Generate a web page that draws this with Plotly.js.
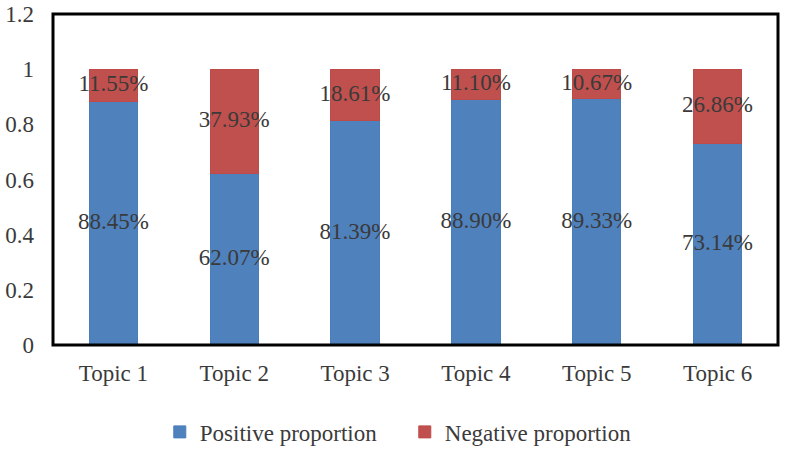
<!DOCTYPE html>
<html>
<head>
<meta charset="utf-8">
<script src="https://cdn.plot.ly/plotly-3.0.1.min.js"></script>
<style>
  html, body { margin: 0; padding: 0; background: #ffffff; }
  #chart { width: 786px; height: 449px; }
</style>
</head>
<body>
<div id="chart"></div>
<script>
// Sentiment split per topic
const topics = ["Topic 1", "Topic 2", "Topic 3", "Topic 4", "Topic 5", "Topic 6"];
const positive = [0.8845, 0.6207, 0.8139, 0.8890, 0.8933, 0.7314];
const negative = [0.1155, 0.3793, 0.1861, 0.1110, 0.1067, 0.2686];
const positiveLabels = ["88.45%", "62.07%", "81.39%", "88.90%", "89.33%", "73.14%"];
const negativeLabels = ["11.55%", "37.93%", "18.61%", "11.10%", "10.67%", "26.86%"];

const serif = "Liberation Serif, Times New Roman, serif";
const blue = "#4F81BD";
const red = "#C0504D";
const ink = "#3a3a3a";

const traces = [
  {
    type: "bar", name: "Positive proportion", x: topics, y: positive,
    marker: { color: blue, line: { color: "#4A7EBB", width: 1 } },
    hoverinfo: "skip"
  },
  {
    type: "bar", name: "Negative proportion", x: topics, y: negative,
    marker: { color: red, line: { color: "#BE4B48", width: 1 } },
    hoverinfo: "skip"
  },
  // value labels centred on each segment
  {
    type: "scatter", mode: "text", x: topics,
    y: positive.map(v => v / 2),
    text: positiveLabels, showlegend: false, hoverinfo: "skip",
    textposition: "middle center",
    textfont: { family: serif, size: 23, color: ink }
  },
  {
    type: "scatter", mode: "text", x: topics,
    y: positive.map((v, i) => v + negative[i] / 2),
    text: negativeLabels, showlegend: false, hoverinfo: "skip",
    textposition: "middle center",
    textfont: { family: serif, size: 23, color: ink }
  }
];

const layout = {
  width: 786, height: 449,
  margin: { l: 53, r: 8, t: 14, b: 104 },
  paper_bgcolor: "#ffffff", plot_bgcolor: "#ffffff",
  barmode: "stack", bargap: 0.6,
  font: { family: serif, size: 23, color: ink },
  xaxis: {
    type: "category", showgrid: false, zeroline: false, showline: false,
    ticks: "", ticklabelstandoff: 12, automargin: false,
    tickfont: { family: serif, size: 23, color: ink }
  },
  yaxis: {
    range: [0, 1.2], dtick: 0.2, showgrid: false, zeroline: false, showline: false,
    ticks: "", ticklabelstandoff: 18, automargin: false,
    tickfont: { family: serif, size: 23, color: ink }
  },
  shapes: [{
    type: "rect", xref: "paper", yref: "paper", x0: 0, x1: 1, y0: 0, y1: 1,
    line: { color: "#000000", width: 3 }, fillcolor: "rgba(0,0,0,0)"
  }],
  showlegend: true,
  legend: {
    orientation: "h", traceorder: "normal",
    xref: "container", yref: "container",
    x: 0.515, xanchor: "center", y: 0.038, yanchor: "middle",
    font: { family: serif, size: 23, color: ink },
    itemwidth: 30, entrywidth: 200
  }
};

Plotly.newPlot("chart", traces, layout, { displayModeBar: false, staticPlot: true });
</script>
</body>
</html>
